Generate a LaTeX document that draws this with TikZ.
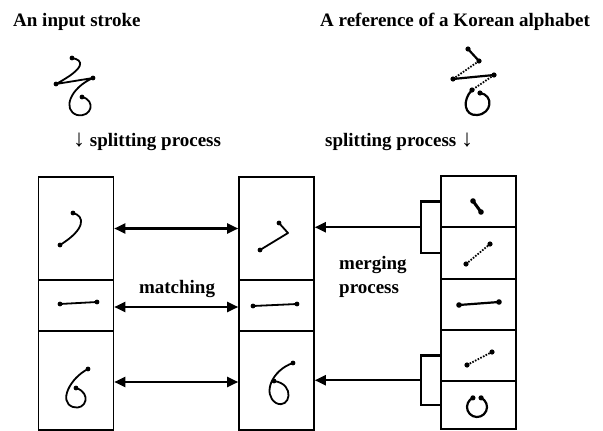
\documentclass[tikz,border=0pt]{standalone}
\usepackage{fontspec}
\setmainfont{Liberation Serif}
\usetikzlibrary{arrows.meta}
\tikzset{
  cell/.style={draw, line width=1.6pt, minimum width=75pt, inner sep=0pt},
  brk/.style={draw, line width=2.2pt, minimum width=20pt, inner sep=0pt},
  lbl/.style={font=\bfseries\fontsize{19}{24}\selectfont, inner sep=0pt},
  dbl/.style={line width=2.2pt, {Triangle[length=11pt,width=10pt]}-{Triangle[length=11pt,width=10pt]}},
  arr/.style={line width=2.2pt, -{Triangle[length=11pt,width=10pt]}},
  gl/.style={line width=1.8pt, line cap=round, line join=round},
  gld/.style={line width=1.8pt, dash pattern=on 1.6pt off 1.4pt},
  gdot/.style={fill=black}
}
\newcommand{\bigdown}{{\fontsize{24}{24}\selectfont ↓}}
\begin{document}
\begin{tikzpicture}[x=1pt,y=-1pt]
\useasboundingbox (0,0) rectangle (603,431);

% headers
\node[lbl, anchor=base west] (h1) at (13,27) {An input stroke};
\node[lbl, anchor=base west] (h2) at (320,27) {A reference of a Korean alphabet};
\node[lbl, anchor=base west] (s1) at (73,146) {\bigdown\ splitting process};
\node[lbl, anchor=base west] (s2) at (325,146) {splitting process \bigdown};

% input stroke glyph
\draw[gl] (72,58) .. controls (84,60) and (86,68) .. (56,84) -- (93,78)
  .. controls (70,88) and (62,110) .. (77,115) .. controls (92,118) and (96,100) .. (82,97);
\foreach \p in {(72,58),(56,84),(93,78),(82,97)} \fill \p circle[radius=2.4pt];

% reference glyph
\draw[gl, line width=2.2pt] (468,49) -- (479,61);
\draw[gld] (479,61) -- (453,79);
\draw[gl, line width=2.2pt] (453,79) -- (494,75);
\draw[gld] (494,75) -- (472,90);
\draw[gl, line width=2.2pt] (472,90) .. controls (462,100) and (464,116) .. (477,115)
  .. controls (492,114) and (494,95) .. (480,93);
\foreach \p in {(468,49),(479,61),(453,79),(494,75),(472,90),(480,93)} \fill \p circle[radius=2.6pt];

% left column
\node[cell, minimum height=103pt] (L1) at (76,228.5) {};
\node[cell, minimum height=51pt] (L2) at (76,305.5) {};
\node[cell, minimum height=99pt] (L3) at (76,380.5) {};
% middle column
\node[cell, minimum height=103pt] (M1) at (276.5,228.5) {};
\node[cell, minimum height=51pt] (M2) at (276.5,305.5) {};
\node[cell, minimum height=99pt] (M3) at (276.5,380.5) {};
% right column
\node[cell, minimum height=51pt] (R1) at (478.5,201.5) {};
\node[cell, minimum height=52pt] (R2) at (478.5,253) {};
\node[cell, minimum height=51pt] (R3) at (478.5,304.5) {};
\node[cell, minimum height=51pt] (R4) at (478.5,355.5) {};
\node[cell, minimum height=48pt] (R5) at (478.5,405) {};
% brackets
\node[brk, minimum height=51.5pt] (B1) at (431,227.25) {};
\node[brk, minimum height=49.5pt] (B2) at (431,380.25) {};

% matching arrows
\draw[dbl] (L1.east) -- (M1.west);
\draw[dbl] ([yshift=-1.5pt]L2.east) -- ([yshift=-1.5pt]M2.west);
\draw[dbl] ([yshift=-1.5pt]L3.east) -- ([yshift=-1.5pt]M3.west);
% merging arrows
\draw[arr] (B1.west) -- (B1.west -| M1.east);
\draw[arr] (B2.west) -- (B2.west -| M3.east);

\node[lbl, anchor=base] (match) at (177,293) {matching};
\node[lbl, anchor=base west, align=left] (merge) at (339,293) {merging\\process};

% glyphs in left cells
\draw[gl] (73,213) .. controls (85,216) and (86,229) .. (60,245);
\foreach \p in {(73,213),(60,245)} \fill \p circle[radius=2.4pt];
\draw[gl] (60,304) -- (97,302);
\foreach \p in {(60,304),(97,302)} \fill \p circle[radius=2.4pt];
\draw[gl] (88,369) .. controls (70,378) and (58,402) .. (73,407) .. controls (86,411) and (92,393) .. (76,388);
\foreach \p in {(88,369),(76,388)} \fill \p circle[radius=2.4pt];

% glyphs in middle cells
\draw[gl] (279,223) -- (288,233) -- (260,250);
\foreach \p in {(279,223),(260,250)} \fill \p circle[radius=2.4pt];
\draw[gl] (253,306) -- (297,304);
\foreach \p in {(253,306),(297,304)} \fill \p circle[radius=2.4pt];
\draw[gl] (293,363) .. controls (272,370) and (262,394) .. (276,403) .. controls (290,410) and (296,384) .. (274,381);
\foreach \p in {(293,363),(274,381)} \fill \p circle[radius=2.4pt];

% glyphs in right cells
\draw[gl, line width=3pt] (473,201) -- (481,212);
\foreach \p in {(473,201),(481,212)} \fill \p circle[radius=2.8pt];
\draw[gld] (466,264) -- (490,244);
\foreach \p in {(466,264),(490,244)} \fill \p circle[radius=2.6pt];
\draw[gl, line width=2.2pt] (459,305) -- (499,302);
\foreach \p in {(459,305),(499,302)} \fill \p circle[radius=2.8pt];
\draw[gld] (467,365) -- (492,352);
\foreach \p in {(467,365),(492,352)} \fill \p circle[radius=2.6pt];
\draw[gl, line width=2.2pt] (477,407) ++(294:10) arc[start angle=294, end angle=606, radius=10];
\foreach \a in {294,246} \fill (477,407) ++(\a:10) circle[radius=2.6pt];
\end{tikzpicture}
\end{document}
